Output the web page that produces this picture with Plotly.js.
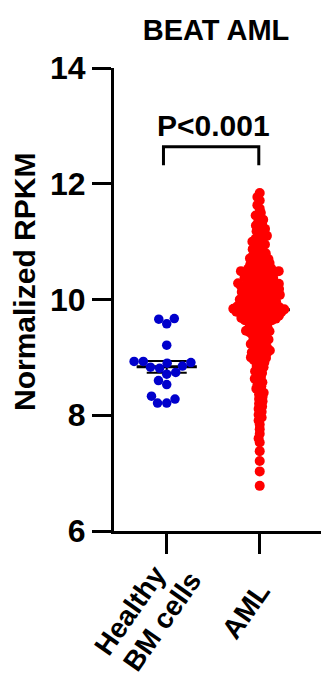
<!DOCTYPE html>
<html>
<head>
<meta charset="utf-8">
<script src="https://cdn.plot.ly/plotly-3.0.1.min.js"></script>
<style>
  html, body { margin: 0; padding: 0; background: #fff; }
  #chart { width: 321px; height: 680px; }
</style>
</head>
<body>
<div id="chart"></div>
<script>
// Group labels (one entry per line of each label)
const groupLabels = [['Healthy', 'BM cells'], ['AML']];

// Normalized RPKM, healthy bone-marrow donors
const healthyValues = [
  9.66, 9.58, 9.67, 9.21, 8.90, 8.93, 8.91, 8.93, 8.81, 8.83,
  8.85, 8.74, 8.71, 8.53, 8.60, 8.33, 8.21, 8.21, 8.28
];

// Normalized RPKM, AML patients
const amlValues = [
  11.84, 11.77, 11.71, 11.63, 11.57, 11.50,
  11.45, 11.43, 11.38, 11.34, 11.31, 11.28,
  11.25, 11.22, 11.18, 11.17, 11.12, 11.10, 11.09, 11.05, 11.04, 11.00, 10.97,
  10.95, 10.94, 10.90, 10.87, 10.86, 10.83, 10.80, 10.79, 10.76, 10.74, 10.73,
  10.71, 10.70, 10.69, 10.67, 10.66, 10.64, 10.63, 10.62, 10.60, 10.59, 10.58,
  10.57, 10.55, 10.54, 10.53, 10.52, 10.51, 10.50, 10.49, 10.49, 10.48, 10.47, 10.47,
  10.46, 10.46, 10.44, 10.43, 10.43, 10.41, 10.40, 10.38, 10.38, 10.37, 10.35,
  10.34, 10.33, 10.33, 10.31, 10.30, 10.29,
  10.28, 10.27, 10.27, 10.26, 10.25, 10.24, 10.24, 10.23, 10.22, 10.21,
  10.20, 10.20, 10.19, 10.18, 10.17, 10.17, 10.16, 10.15, 10.14, 10.13,
  10.13, 10.12, 10.11, 10.10, 10.10, 10.09, 10.08, 10.07, 10.06, 10.06,
  10.05, 10.04, 10.03, 10.03, 10.02, 10.01, 10.00, 9.99, 9.99, 9.98,
  9.97, 9.96, 9.96, 9.95, 9.94, 9.93, 9.92, 9.91, 9.90, 9.89,
  9.88, 9.88, 9.87, 9.87, 9.86, 9.86, 9.85, 9.84, 9.84, 9.83, 9.83, 9.82,
  9.81, 9.81, 9.80, 9.80, 9.79, 9.78, 9.78, 9.77, 9.77, 9.76, 9.75, 9.75, 9.74,
  9.73, 9.72, 9.72, 9.71, 9.70, 9.69, 9.68, 9.68, 9.67, 9.66,
  9.65, 9.64, 9.64, 9.63, 9.62,
  9.61, 9.59, 9.58, 9.56, 9.55, 9.53, 9.52, 9.50, 9.49, 9.48,
  9.46, 9.45, 9.44, 9.43, 9.42, 9.41,
  9.38, 9.37, 9.35, 9.33, 9.31, 9.30, 9.28, 9.26, 9.25, 9.23,
  9.21, 9.19, 9.18, 9.16, 9.14, 9.12, 9.11, 9.09, 9.07, 9.05,
  9.04, 9.02, 9.00, 8.99, 8.97, 8.95, 8.94,
  8.91, 8.88, 8.85, 8.83, 8.80, 8.76, 8.73, 8.70, 8.66, 8.63,
  8.60, 8.57, 8.53, 8.50, 8.46, 8.43, 8.39, 8.36, 8.32, 8.28,
  8.24, 8.20, 8.15, 8.11, 8.06, 8.01, 7.96, 7.91,
  7.84, 7.76, 7.68, 7.60, 7.53,
  7.38, 7.21, 7.03, 6.78
];

// Plot geometry
const W = 321, H = 680;
const M = { l: 114, r: 0, t: 68, b: 149 };
const xRange = [-0.567, 1.659];
const yRange = [6, 14];
const pxPerX = (W - M.l - M.r) / (xRange[1] - xRange[0]);
const pxPerY = (H - M.t - M.b) / (yRange[1] - yRange[0]);

// Greedy beeswarm: each point goes to the horizontal offset nearest the
// group centre that keeps it at least `gap` pixels from points already placed.
function swarmOffsets(vals, gap) {
  const order = vals.map((v, i) => i).sort((a, b) => vals[a] - vals[b]);
  const placed = [];
  const out = new Array(vals.length).fill(0);
  for (const i of order) {
    const y = vals[i] * pxPerY;
    const near = placed.filter(p => Math.abs(p.y - y) < gap);
    const cands = [0];
    for (const p of near) {
      const dx = Math.sqrt(gap * gap - (p.y - y) * (p.y - y));
      cands.push(p.x + dx, p.x - dx);
    }
    cands.sort((a, b) => Math.abs(a) - Math.abs(b) || a - b);
    let chosen = 0;
    for (const c of cands) {
      if (near.every(p => (p.x - c) * (p.x - c) + (p.y - y) * (p.y - y) >= gap * gap - 1e-6)) {
        chosen = c; break;
      }
    }
    placed.push({ x: chosen, y });
    out[i] = chosen / pxPerX;
  }
  return out;
}

function meanSem(v) {
  const n = v.length;
  const m = v.reduce((a, b) => a + b, 0) / n;
  const sd = Math.sqrt(v.reduce((a, b) => a + (b - m) * (b - m), 0) / (n - 1));
  return [m, sd / Math.sqrt(n)];
}

const FONT = 'Liberation Sans, Arial, Helvetica, sans-serif';
const groupsData = [healthyValues, amlValues];
const colors = ['#0000CC', '#FF0000'];
const dotSize = [9.5, 10];
const gaps = [9.2, 4.2];

const traces = [];
// mean ± SEM bars sit underneath the dots
groupsData.forEach((vals, g) => {
  const [m, sem] = meanSem(vals);
  traces.push({
    type: 'scatter', mode: 'markers', x: [g], y: [m],
    marker: { symbol: 'line-ew-open', size: 43, color: '#000', line: { width: 3, color: '#000' } },
    error_y: { type: 'data', array: [sem], visible: true, width: 20, thickness: 2, color: '#000' },
    hoverinfo: 'skip', showlegend: false
  });
});
groupsData.forEach((vals, g) => {
  const offs = swarmOffsets(vals, gaps[g]);
  traces.push({
    type: 'scatter', mode: 'markers',
    x: vals.map((v, i) => g + offs[i]), y: vals,
    marker: { size: dotSize[g], color: colors[g], line: { width: 0 } },
    showlegend: false, hoverinfo: 'y'
  });
});

// rotated category labels under the ticks: [group, line, x shift, y shift]
const labelSpots = [[0, 0, -37, -79], [0, 1, -5, -90], [1, 0, -14, -79]];
const catFont = { family: FONT, size: 28, weight: 'bold', color: '#000' };
const catAnnotations = labelSpots.map(([g, line, dx, dy]) => ({
  text: groupLabels[g][line], xref: 'x', yref: 'y', x: g, y: yRange[0],
  xshift: dx, yshift: dy, xanchor: 'center', yanchor: 'middle',
  textangle: -55, showarrow: false, font: catFont
}));

const layout = {
  width: W, height: H,
  margin: M,
  paper_bgcolor: '#fff', plot_bgcolor: '#fff',
  showlegend: false,
  font: { family: FONT, color: '#000', weight: 'bold' },
  title: {
    text: 'BEAT AML',
    font: { family: FONT, size: 29, weight: 'bold', color: '#000' },
    xref: 'container', x: 216 / W, xanchor: 'center',
    yref: 'container', y: 1 - 30 / H, yanchor: 'middle'
  },
  xaxis: {
    range: xRange, showgrid: false, zeroline: false,
    tickmode: 'array', tickvals: [0, 1], showticklabels: false,
    ticks: 'outside', ticklen: 20, tickwidth: 3, tickcolor: '#000',
    showline: true, linewidth: 3, linecolor: '#000',
    fixedrange: true
  },
  yaxis: {
    range: yRange, showgrid: false, zeroline: false,
    tickmode: 'linear', tick0: 6, dtick: 2,
    ticks: 'outside', ticklen: 19, tickwidth: 3, tickcolor: '#000',
    showline: true, linewidth: 3, linecolor: '#000',
    tickfont: { family: FONT, size: 32, weight: 'bold', color: '#000' },
    fixedrange: true
  },
  shapes: [{
    type: 'path', xref: 'x', yref: 'y',
    path: 'M -0.035,12.32 L -0.035,12.64 L 0.99,12.64 L 0.99,12.32',
    line: { color: '#000', width: 3 }
  }],
  annotations: [
    {
      text: 'P<0.001', xref: 'x', yref: 'y', x: 0.5, y: 13.0,
      xanchor: 'center', yanchor: 'middle', showarrow: false,
      font: { family: FONT, size: 30, weight: 'bold', color: '#000' }
    },
    {
      text: 'Normalized RPKM', xref: 'paper', yref: 'paper',
      x: (24 - M.l) / (W - M.l - M.r), y: (H - M.b - 282) / (H - M.t - M.b),
      xanchor: 'center', yanchor: 'middle', textangle: -90, showarrow: false,
      font: { family: FONT, size: 30, weight: 'bold', color: '#000' }
    }
  ].concat(catAnnotations)
};

Plotly.newPlot('chart', traces, layout, { displayModeBar: false, staticPlot: true });
</script>
</body>
</html>
